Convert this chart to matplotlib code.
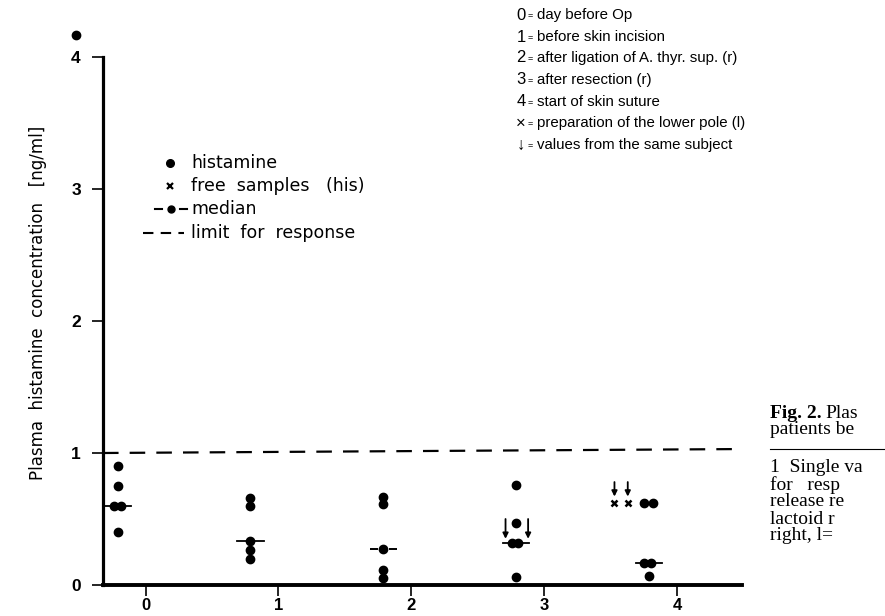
import matplotlib
matplotlib.use('Agg')
import matplotlib.pyplot as plt
from matplotlib.lines import Line2D

# ---------------- data ----------------
group_ticks = [0, 1, 2, 3, 4]
y_ticks = [0, 1, 2, 3, 4]

his_x = [-0.21, -0.21, -0.235, -0.185, -0.21,
         0.79, 0.79, 0.79, 0.79, 0.79,
         1.79, 1.79, 1.79, 1.79, 1.79,
         2.79, 2.79, 2.757, 2.807, 2.79,
         3.756, 3.82, 3.755, 3.805, 3.79]
his_y = [0.90, 0.75, 0.60, 0.60, 0.40,
         0.66, 0.60, 0.33, 0.265, 0.20,
         0.67, 0.61, 0.27, 0.11, 0.055,
         0.76, 0.47, 0.315, 0.315, 0.06,
         0.62, 0.62, 0.165, 0.165, 0.065]
outlier_x = [-0.525]
outlier_y = [4.17]
free_x = [3.53, 3.63]
free_y = [0.62, 0.62]
median_y = [0.60, 0.33, 0.27, 0.315, 0.165]
median_x0 = [-0.32, 0.69, 1.69, 2.69, 3.69]
median_x1 = [-0.11, 0.89, 1.89, 2.89, 3.89]
median_dashed = [False, False, True, False, False]
arrow_x = [2.71, 2.88, 3.53, 3.63]
arrow_top = [0.50, 0.50, 0.78, 0.78]
arrow_bot = [0.35, 0.35, 0.67, 0.67]
limit_x = [-0.32, 4.49]
limit_y = [1.0, 1.03]

legend_right = [("0", "day before Op"),
                ("1", "before skin incision"),
                ("2", "after ligation of A. thyr. sup. (r)"),
                ("3", "after resection (r)"),
                ("4", "start of skin suture"),
                ("\u00d7", "preparation of the lower pole (l)"),
                ("\u2193", "values from the same subject")]
legend_left = ["histamine", "free  samples   (his)", "median", "limit  for  response"]
caption_bold = "Fig. 2."
caption_lines = ["Plas", "patients be"]
note_lines = ["1  Single va", "for   resp", "release re", "lactoid r", "right, l="]

W, H = 885, 616
def fx(x):
    return x / W
def fy(y):
    return 1 - y / H

SANS = ['DejaVu Sans']
LSANS = ['Liberation Sans', 'DejaVu Sans']
SERIF = ['Liberation Serif', 'DejaVu Serif']

fig = plt.figure(figsize=(W / 100, H / 100), dpi=100)
ax = fig.add_axes([fx(103), 31 / H, (742 - 103) / W, (585 - 57) / H])
ax.set_xlim(limit_x[0], limit_x[1])
ax.set_ylim(0, 4)
for s in ['top', 'right']:
    ax.spines[s].set_visible(False)
ax.spines['left'].set_linewidth(2.3)
ax.spines['bottom'].set_linewidth(2.8)
ax.set_xticks(group_ticks)
ax.set_yticks(y_ticks)
ax.set_xticklabels([str(t) for t in group_ticks], family=LSANS, fontsize=12, fontweight='bold')
ax.set_yticklabels([str(t) for t in y_ticks], family=LSANS, fontsize=12.5, fontweight='bold')
ax.tick_params(axis='y', direction='out', length=8, width=1.2, pad=8)
ax.tick_params(axis='x', direction='out', length=8, width=1.2, pad=1.5)

# limit line
ax.plot(limit_x, limit_y, color='black', lw=1.6, dashes=(7, 5), clip_on=False)

# medians
for x0, x1, y, d in zip(median_x0, median_x1, median_y, median_dashed):
    if d:
        seg = (x1 - x0) * 0.3
        ax.plot([x0, x0 + seg], [y, y], color='black', lw=1.4, solid_capstyle='butt')
        ax.plot([x1 - seg, x1], [y, y], color='black', lw=1.4, solid_capstyle='butt')
    else:
        ax.plot([x0, x1], [y, y], color='black', lw=1.3)

# histamine dots
ax.plot(his_x, his_y, 'o', color='black', ms=6, clip_on=False, zorder=5)
ax.plot(outlier_x, outlier_y, 'o', color='black', ms=6, clip_on=False, zorder=5)
ax.plot(free_x, free_y, 'x', color='black', ms=5, mew=1.8, clip_on=False, zorder=5)

# arrows
for x, yt, yb in zip(arrow_x, arrow_top, arrow_bot):
    ax.annotate('', xy=(x, yb), xytext=(x, yt),
                arrowprops=dict(arrowstyle='-|>', color='black', lw=1.3,
                                mutation_scale=8, shrinkA=0, shrinkB=0))

# y label
fig.text(fx(38), fy(303), "Plasma  histamine  concentration   [ng/ml]", rotation=90,
         ha='center', va='center', family=SANS, fontsize=12)

# left legend
ly = [163, 186, 209, 233]
fig.add_artist(Line2D([fx(170)], [fy(ly[0])], marker='o', color='black', ms=5.5,
                      transform=fig.transFigure))
fig.add_artist(Line2D([fx(170)], [fy(ly[1])], marker='x', color='black', ms=4.5, mew=1.6,
                      transform=fig.transFigure))
fig.add_artist(Line2D([fx(155), fx(162)], [fy(ly[2])] * 2, color='black', lw=1.5,
                      transform=fig.transFigure))
fig.add_artist(Line2D([fx(180), fx(187)], [fy(ly[2])] * 2, color='black', lw=1.5,
                      transform=fig.transFigure))
fig.add_artist(Line2D([fx(171)], [fy(ly[2])], marker='o', color='black', ms=5,
                      transform=fig.transFigure))
fig.add_artist(Line2D([fx(143), fx(184)], [fy(ly[3])] * 2, color='black', lw=1.5,
                      dashes=(5, 3.5), transform=fig.transFigure))
for y, t in zip(ly, legend_left):
    fig.text(fx(191), fy(y), t, ha='left', va='center', family=SANS, fontsize=12.5)

# right legend
ry = [15, 37, 58, 80, 102, 123, 145]
for y, (k, t) in zip(ry, legend_right):
    fig.text(fx(521), fy(y), k, ha='center', va='center', family=LSANS, fontsize=12)
    fig.text(fx(530), fy(y + 1), "=", ha='center', va='center', family=LSANS, fontsize=6.5)
    fig.text(fx(537), fy(y), t, ha='left', va='center', family=LSANS, fontsize=10.8)

# caption (cut at right edge)
cx = 770
fs_c = 14
tb = fig.text(fx(cx), fy(413), caption_bold, ha='left', va='center', family=SERIF,
              fontsize=fs_c, fontweight='bold')
r = fig.canvas.get_renderer()
bb = tb.get_window_extent(renderer=r)
fig.text(bb.x1 / W + fx(4), fy(413), caption_lines[0], ha='left', va='center', family=SERIF,
         fontsize=fs_c)
fig.text(fx(cx), fy(430), caption_lines[1], ha='left', va='center', family=SERIF, fontsize=fs_c)
fig.add_artist(Line2D([fx(cx), 1], [fy(449)] * 2, color='black', lw=0.8,
                      transform=fig.transFigure))
for i, t in enumerate(note_lines):
    fig.text(fx(cx), fy(468 + 17 * i), t, ha='left', va='center', family=SERIF, fontsize=fs_c)

fig.savefig('out.png', dpi=100)
